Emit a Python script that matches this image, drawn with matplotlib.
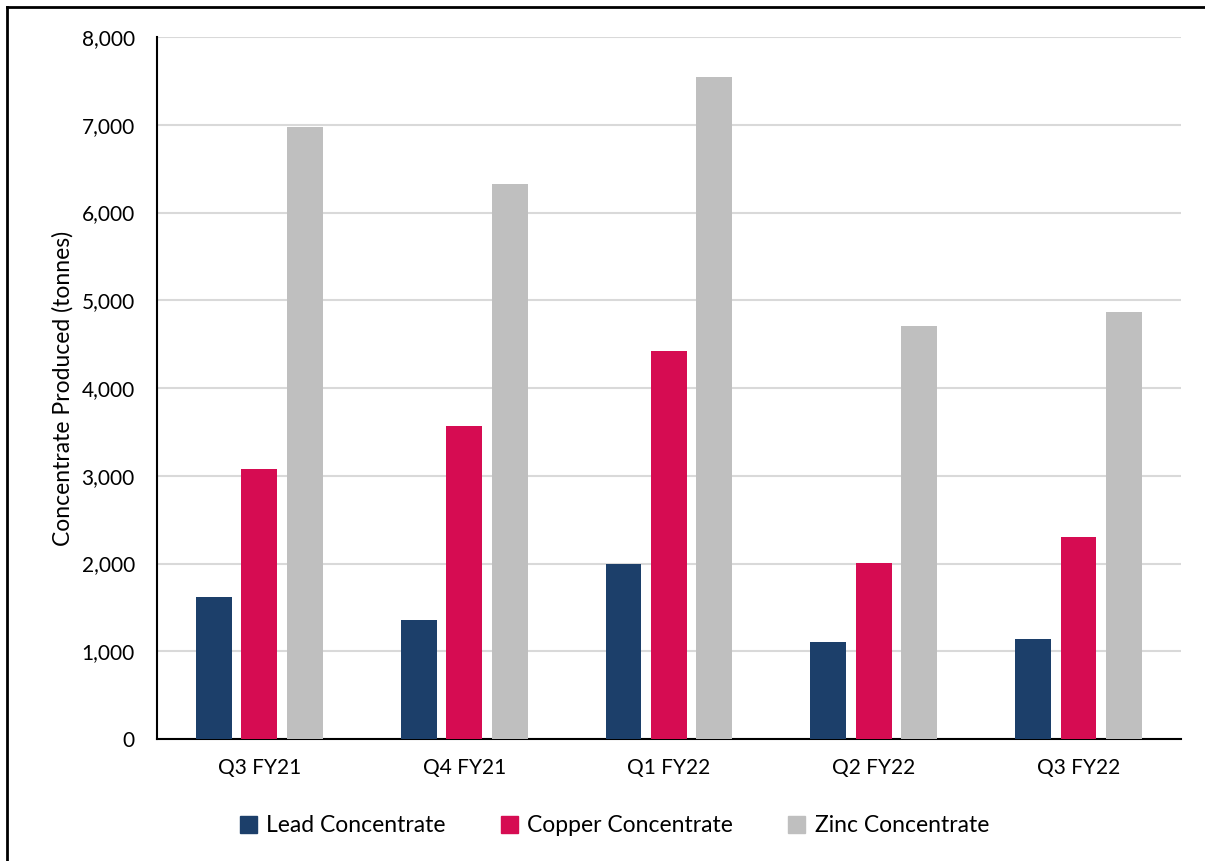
import numpy as np
import matplotlib.pyplot as plt
from matplotlib.lines import Line2D

quarters = ["Q3 FY21", "Q4 FY21", "Q1 FY22", "Q2 FY22", "Q3 FY22"]
lead = [1620, 1355, 1995, 1105, 1140]
copper = [3075, 3565, 4420, 2005, 2300]
zinc = [6970, 6320, 7550, 4705, 4865]

series = ["Lead Concentrate", "Copper Concentrate", "Zinc Concentrate"]
colors = ["#1c3f6a", "#d60c52", "#bfbfbf"]

plt.rcParams['font.family'] = ['Lato', 'DejaVu Sans']

fig = plt.figure(figsize=(12.05, 8.61), dpi=100)
ax = fig.add_axes([0.1303, 0.1417, 0.8497, 0.8153])

x = np.arange(len(quarters))
w = 0.175
step = 0.222
for i, (vals, c, name) in enumerate(zip([lead, copper, zinc], colors, series)):
    ax.bar(x + (i - 1) * step, vals, width=w, color=c, label=name, zorder=3)

ax.set_ylim(0, 8000)
ax.set_xlim(-0.5, len(quarters) - 0.5)
ax.set_yticks(np.arange(0, 8001, 1000))
ax.set_yticklabels([f"{v:,}" for v in range(0, 8001, 1000)])
ax.set_xticks(x)
ax.set_xticklabels(quarters)
ax.tick_params(axis='y', length=0, labelsize=15, pad=16)
ax.tick_params(axis='x', length=0, labelsize=15, pad=14)
ax.grid(axis='y', color='#d9d9d9', linewidth=1.5, zorder=0)
ax.set_axisbelow(True)
for s in ['top', 'right']:
    ax.spines[s].set_visible(False)
ax.spines['left'].set_linewidth(1.5)
ax.spines['bottom'].set_linewidth(1.5)
ax.set_ylabel("Concentrate Produced (tonnes)", fontsize=16.5, labelpad=6)

handles = [plt.Rectangle((0, 0), 1, 1, color=c) for c in colors]
fig.legend(handles, series, loc='center', bbox_to_anchor=(0.51, 0.041), ncol=3,
           frameon=False, fontsize=16.5, handlelength=0.75, handleheight=0.75,
           handletextpad=0.4, columnspacing=2.4)

# outer frame
fig.add_artist(Line2D([0.006, 0.006], [0, 0.992], color='black', lw=2, transform=fig.transFigure))
fig.add_artist(Line2D([0.006, 1.0], [0.992, 0.992], color='black', lw=2, transform=fig.transFigure))

fig.savefig("out.png", dpi=100)
